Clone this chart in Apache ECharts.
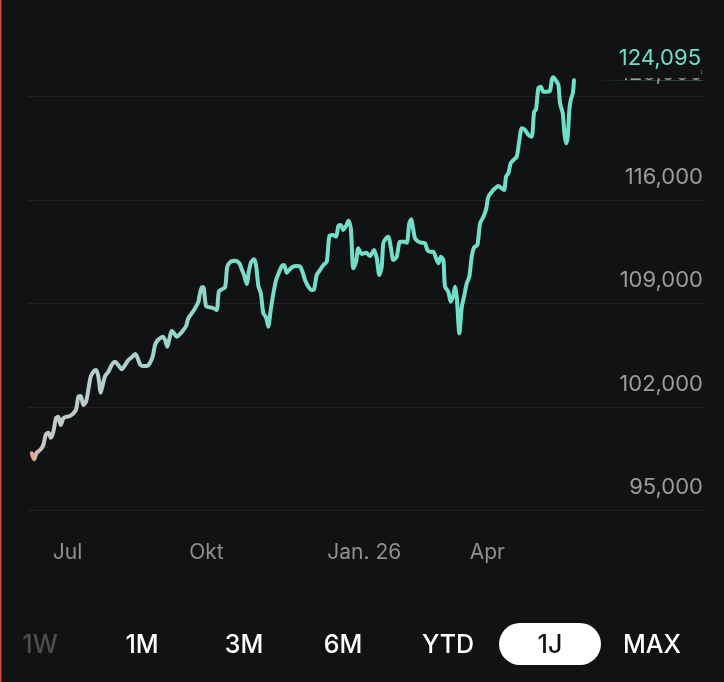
<!DOCTYPE html>
<html>
<head>
<meta charset="utf-8">
<script src="https://cdn.jsdelivr.net/npm/echarts@6/dist/echarts.min.js"></script>
<style>
html,body{margin:0;padding:0;background:#111214;}
#chart{width:724px;height:682px;}
</style>
</head>
<body>
<div id="chart"></div>
<script>
// x = days since start of the 1-year window
const days = [0,1.5,3.3,6.0,7.7,9.5,11.1,12.7,14.4,16.2,17.7,19.3,21.1,23.3,25.5,27.7,29.5,31.1,32.7,34.4,36.2,37.7,39.3,41.1,42.9,44.4,46.0,47.3,48.9,51.1,53.3,55.5,57.7,60.0,62.2,64.4,66.7,68.9,70.4,72.2,74.4,76.7,78.9,80.7,82.2,83.7,85.5,87.3,88.9,90.4,91.7,93.3,94.9,96.7,98.9,101.1,102.9,104.4,106.7,108.9,111.1,111.7,113.3,114.4,116.2,118.9,121.1,123.3,124.7,126.7,128.9,130.4,132.7,135.5,138.4,140.0,141.5,143.3,144.9,146.4,148.2,149.5,151.1,152.7,154.4,156.2,157.7,159.3,161.1,162.9,164.4,166.7,168.2,170.0,171.7,174.0,176.7,178.9,180.7,182.2,184.4,186.7,188.2,190.0,192.2,194.4,196.7,198.4,200.7,202.9,204.4,206.0,207.7,209.5,211.1,212.7,214.4,216.2,217.7,220.0,222.9,225.5,228.2,230.0,231.7,233.3,234.4,236.2,237.7,239.3,241.1,243.3,245.5,248.2,250.0,251.7,252.9,254.4,255.5,257.7,260.0,262.2,263.7,265.5,267.7,269.5,271.1,272.7,274.4,275.5,277.7,279.3,281.1,282.2,283.3,285.1,286.7,288.2,290.0,291.7,293.3,294.9,297.1,298.9,301.1,302.9,304.4,306.7,308.9,311.1,313.3,314.9,316.2,317.7,319.3,321.1,323.3,325.1,326.7,328.9,331.1,333.3,334.9,336.2,337.7,339.3,341.1,343.3,345.5,346.7,347.7,349.5,351.1,352.2,354.0,355.1,356.2,357.3,358.4,359.3,360.7,361.5];
const values = [98870,98460,98910,99140,99430,100170,100260,99920,100330,101240,101340,100780,101240,101340,101390,101570,101800,102700,102740,102140,102360,103150,104050,104390,104500,104050,102970,103490,104100,104390,104840,105060,104840,104550,104840,105180,105360,105580,105360,104890,104770,104770,105000,105450,106190,106480,106650,106750,106530,106080,106580,107160,106980,106750,106940,107210,107480,108000,108340,108680,109120,109460,110100,110100,108830,108740,108680,108560,109800,109960,110100,111490,111830,111890,111720,111310,110930,110320,111270,111830,111990,111600,110180,109690,108340,108070,107430,108560,109690,110590,110990,111540,111600,111080,111270,111490,111540,111490,111080,110590,110140,109910,109960,110930,111270,111600,111830,113560,113630,113520,114240,114310,113970,114240,114600,114090,111380,111830,112730,112350,112430,112210,112620,112060,110930,111490,113090,113410,113520,112840,111940,112160,113180,113180,113110,114420,114690,113970,113410,113180,113110,113070,112620,112500,112500,112060,111720,112160,111940,110140,109800,109120,109570,110140,109460,106980,108780,109460,110370,110810,112160,112800,112960,114420,114870,115370,116220,116560,116790,116950,116790,116680,117580,117810,118480,118700,118930,120060,120850,120730,120400,120280,121970,122130,123550,123660,123320,123320,123390,124120,124300,124070,123780,122540,121860,120510,119830,120280,122090,122760,123220,124095];
const xTickDays = [14, 105, 197, 292];
const xTickLabels = ['Jul', 'Okt', 'Jan. 26', 'Apr'];
const yTicks = [95000, 102000, 109000, 116000, 123000];
const ranges = ['1W', '1M', '3M', '6M', 'YTD', '1J', 'MAX'];
const activeRange = '1J';
const currentValue = 124095;

const BG = '#111214';
const TEAL = '#6fe0c8';
const FONT = 'Inter, "Noto Sans", sans-serif';
const Y_STEP = 7000;

const n = Math.min(days.length, values.length);
const seriesData = [];
for (let i = 0; i < n; i++) seriesData.push([days[i], values[i]]);

const fmt = v => Number(v).toLocaleString('en-US');

const chart = echarts.init(document.getElementById('chart'), null, {renderer: 'canvas'});

const btnCenters = [40, 142, 244, 343, 448, 550, 652];
const graphics = [
  {type: 'rect', left: 0, top: 0, shape: {width: 1.5, height: 682}, style: {fill: '#c4463d'}, z: 100}
];
ranges.forEach((r, i) => {
  const active = r === activeRange;
  if (active) {
    graphics.push({type: 'rect', shape: {x: btnCenters[i] - 51, y: 623, width: 102, height: 42, r: 21}, style: {fill: '#ffffff'}, z: 50});
  }
  graphics.push({
    type: 'text', x: btnCenters[i], y: 645, z: 51,
    style: {
      text: r, textAlign: 'center', textVerticalAlign: 'middle',
      fill: active ? '#111214' : (r === '1W' ? '#4c4d4f' : '#ffffff'),
      font: '500 25px ' + FONT
    }
  });
});

chart.setOption({
  backgroundColor: BG,
  animation: false,
  // one extra (off-screen) step above the top tick so the latest value stays inside the axis range
  grid: {left: 28, right: 21, top: -7, bottom: 171.5, containLabel: false, outerBoundsMode: 'none'},
  xAxis: {
    type: 'value', min: -2.5, max: 447.5,
    axisLine: {show: false}, axisTick: {show: false}, splitLine: {show: false},
    axisLabel: {
      customValues: xTickDays,
      formatter: v => { const k = xTickDays.indexOf(v); return k >= 0 ? xTickLabels[k] : ''; },
      align: 'left', color: '#8e8f91', fontSize: 21, fontFamily: FONT, margin: 32
    }
  },
  yAxis: {
    type: 'value', position: 'right', min: yTicks[0], max: yTicks[yTicks.length - 1] + Y_STEP, interval: Y_STEP,
    axisLine: {show: false}, axisTick: {show: false},
    splitLine: {show: true, lineStyle: {color: '#202224', width: 1}},
    axisLabel: {
      inside: true, margin: 0, formatter: v => fmt(v),
      color: '#9c9c9e', fontSize: 22, fontFamily: FONT,
      verticalAlign: 'bottom', padding: [0, 0, 12, 0]
    }
  },
  series: [{
    type: 'line',
    data: seriesData,
    showSymbol: false,
    smooth: 0.25,
    lineStyle: {
      width: 4,
      cap: 'round', join: 'round',
      color: new echarts.graphic.LinearGradient(0, 0, 1, 0, [
        {offset: 0, color: '#eb9b86'},
        {offset: 0.012, color: '#d8b6ac'},
        {offset: 0.03, color: '#c5c9c7'},
        {offset: 0.15, color: '#afd0cd'},
        {offset: 0.3, color: '#91d6cb'},
        {offset: 0.42, color: '#76dcc8'},
        {offset: 1, color: TEAL}
      ])
    },
    markLine: {
      silent: true,
      symbol: 'none',
      animation: false,
      data: [{yAxis: currentValue}],
      lineStyle: {
        type: 'solid', width: 1,
        color: new echarts.graphic.LinearGradient(0, 0, 1, 0, [
          {offset: 0, color: 'rgba(111,224,200,0)'},
          {offset: 0.83, color: 'rgba(111,224,200,0)'},
          {offset: 0.9, color: 'rgba(111,224,200,0.18)'},
          {offset: 1, color: 'rgba(111,224,200,0.3)'}
        ])
      },
      label: {
        show: true, position: 'insideEndTop', distance: 2,
        formatter: () => fmt(currentValue),
        color: TEAL, fontSize: 22, fontFamily: FONT,
        backgroundColor: BG, padding: [8, 0, 9, 24], lineHeight: 22
      }
    }
  }],
  graphic: graphics
});
</script>
</body>
</html>
